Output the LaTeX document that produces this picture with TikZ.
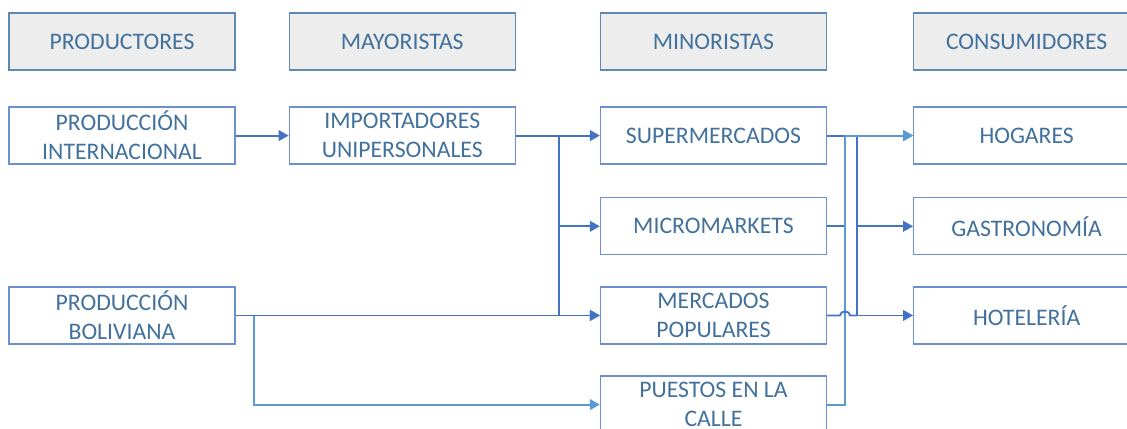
\documentclass[tikz,border=0pt]{standalone}
\usepackage{fontspec}
\setmainfont{Carlito}
\usetikzlibrary{arrows.meta,positioning,calc}
\usepackage{xcolor}
\definecolor{textoazul}{HTML}{41719C}
\definecolor{bordeazul}{HTML}{6A8FD3}
\definecolor{bordegris}{HTML}{5F88B3}
\definecolor{fondogris}{HTML}{EDEDED}
\definecolor{lineaoscura}{HTML}{4472C4}
\definecolor{lineaclara}{HTML}{5B9BD5}

\begin{document}
\begin{tikzpicture}[
				node distance=26.9pt and 63pt,
				cabecera/.style={draw=bordegris,line width=0.9pt,fill=fondogris,rectangle,minimum width=169.5pt,minimum height=42.75pt,inner sep=0pt,font=\fontsize{17.8}{21.75}\selectfont,text=textoazul,align=center},
				caja/.style={cabecera,draw=bordeazul,fill=white},
				flecha/.style={-{Triangle[length=7.5pt,width=8pt]},line width=1.4pt},
				linea/.style={line width=1.4pt}
				]
				\useasboundingbox (0,0) rectangle (845.25pt,-321pt);
				
				% Cabeceras
				\node[cabecera] at (91.5pt,-31.125pt) (hProd) {PRODUCTORES};
				\node[cabecera,right=39.8pt of hProd] (hMay) {MAYORISTAS};
				\node[cabecera,right=of hMay] (hMin) {MINORISTAS};
				\node[cabecera,right=64.5pt of hMin] (hCons) {CONSUMIDORES};
				
				% Actores
				\node[caja,below=of hProd] (intl) {PRODUCCIÓN\\INTERNACIONAL};
				\node[caja,below=of hMay] (impo) {IMPORTADORES\\UNIPERSONALES};
				\node[caja,below=of hMin] (super) {SUPERMERCADOS};
				\node[caja,below=of hCons] (hogar) {HOGARES};
				\node[caja,below=24.4pt of super] (micro) {MICROMARKETS};
				\node[caja,below=24.4pt of hogar] (gastro) {GASTRONOMÍA};
				\node[caja,below=23.2pt of micro] (merc) {MERCADOS\\POPULARES};
				\node[caja,below=23.2pt of gastro] (hotel) {HOTELERÍA};
				\node[caja] at (intl |- merc) (boli) {PRODUCCIÓN\\BOLIVIANA};
				\node[caja,below=23.2pt of merc] (puestos) {PUESTOS EN LA\\CALLE};
				
				% Puntos de union
				\coordinate (jImp) at ($(impo.east)+(32.5pt,0)$);
				\coordinate (jBol) at ($(boli.east)+(13.5pt,0)$);
				\coordinate (jSup) at ($(super.east)+(13.5pt,0)$);
				\coordinate (jCon) at ($(super.east)+(22.5pt,0)$);
				
				% Flechas
				\draw[flecha,lineaclara] (boli.east) -- (jBol) |- (puestos.west);
				\draw[flecha,lineaoscura] (intl) -- (impo);
				\draw[flecha,lineaoscura] (impo) -- (super);
				\draw[flecha,lineaoscura] (jImp) |- (micro.west);
				\draw[flecha,lineaoscura] (jImp) |- (merc.west);
				\draw[flecha,lineaoscura] (boli) -- (merc);
				
				\draw[flecha,lineaoscura] (super) -- (hogar);
				\draw[linea,lineaoscura] (micro.east) -- (micro.east -| jSup);
				\draw[flecha,lineaoscura] (jCon) |- (gastro.west);
				\draw[flecha,lineaoscura] (jCon) |- (hotel.west);
				\draw[flecha,lineaclara] (puestos.east) -| (jSup) -- (hogar.west);
				\draw[linea,lineaoscura] (merc.east) -- ($(merc.east -| jSup)+(-3.75pt,0)$) arc[start angle=180,end angle=0,x radius=3.75pt,y radius=3pt] -- (merc.east -| jCon);
				
\end{tikzpicture}
\end{document}
